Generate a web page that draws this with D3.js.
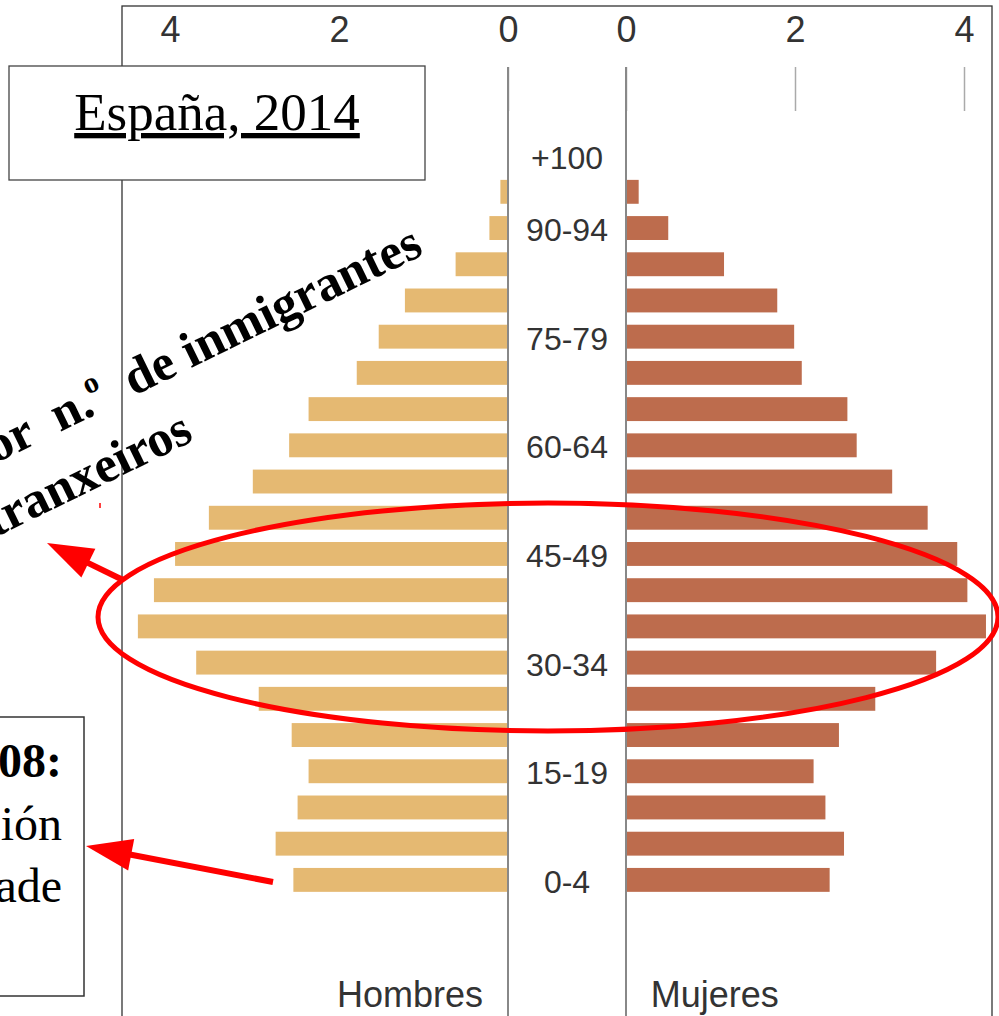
<!DOCTYPE html>
<html>
<head>
<meta charset="utf-8">
<script src="https://cdn.jsdelivr.net/npm/d3@7"></script>
<style>
html, body { margin: 0; padding: 0; background: #fff; }
svg { display: block; }
.tick text { font-family: "Liberation Sans", Arial, sans-serif; fill: #333; }
</style>
</head>
<body>
<div id="chart"></div>
<script>
// age groups, bottom to top
var ageGroups = ["0-4", "5-9", "10-14", "15-19", "20-24", "25-29", "30-34", "35-39",
	"40-44", "45-49", "50-54", "55-59", "60-64", "65-69", "70-74", "75-79",
	"80-84", "85-89", "90-94", "95-99", "+100"];

// % of population
var hombres = [2.54, 2.75, 2.49, 2.36, 2.56, 2.95, 3.69, 4.38,
	4.19, 3.94, 3.54, 3.02, 2.59, 2.36, 1.79, 1.53,
	1.22, 0.62, 0.22, 0.09, 0];
var mujeres = [2.41, 2.58, 2.36, 2.22, 2.52, 2.95, 3.67, 4.26,
	4.04, 3.92, 3.57, 3.15, 2.73, 2.62, 2.08, 1.99,
	1.79, 1.16, 0.50, 0.15, 0];

// labelled groups and axis ticks
var ageLabels = ["0-4", "15-19", "30-34", "45-49", "60-64", "75-79", "90-94", "+100"];
var tickValues = [0, 2, 4];
var sexLabels = ["Hombres", "Mujeres"];

var width = 999;
var height = 1016;
var leftZero = 508;
var rightZero = 626;
var axisY = 111;

var svg = d3.select("#chart").append("svg")
	.attr("width", width)
	.attr("height", height);

// scales
var y = d3.scaleBand()
	.domain(ageGroups.slice().reverse())
	.range([137.5, 898])
	.paddingInner(0.34)
	.paddingOuter(0.17);

var xLeft = d3.scaleLinear().domain([0, 4]).range([leftZero, leftZero - 338]);
var xRight = d3.scaleLinear().domain([0, 4]).range([rightZero, rightZero + 338]);

var rows = ageGroups.map(function (d, i) {
	return {age: d, h: hombres[i], m: mujeres[i]};
});

// outer frame
svg.append("rect")
	.attr("x", 122).attr("y", 6)
	.attr("width", 870).attr("height", 1030)
	.attr("fill", "none")
	.attr("stroke", "#333")
	.attr("stroke-width", 1.3);

// bars
svg.append("g").selectAll("rect")
	.data(rows)
	.enter().append("rect")
	.attr("x", function (d) { return xLeft(d.h); })
	.attr("y", function (d) { return y(d.age); })
	.attr("width", function (d) { return leftZero - xLeft(d.h); })
	.attr("height", y.bandwidth())
	.attr("fill", "#e5b972");

svg.append("g").selectAll("rect")
	.data(rows)
	.enter().append("rect")
	.attr("x", rightZero)
	.attr("y", function (d) { return y(d.age); })
	.attr("width", function (d) { return xRight(d.m) - rightZero; })
	.attr("height", y.bandwidth())
	.attr("fill", "#bd6c4d");

// top axes
function drawAxis(scale) {
	var axis = d3.axisTop(scale)
		.tickValues(tickValues)
		.tickSize(44)
		.tickPadding(25)
		.tickFormat(d3.format("d"));
	var g = svg.append("g")
		.attr("transform", "translate(0," + axisY + ")")
		.call(axis);
	g.select(".domain").remove();
	g.selectAll(".tick line").attr("stroke", "#aaa").attr("stroke-width", 1.5);
	g.selectAll(".tick text").attr("font-size", 36);
}
drawAxis(xLeft);
drawAxis(xRight);

// centre lines
svg.append("g").selectAll("line")
	.data([leftZero, rightZero])
	.enter().append("line")
	.attr("x1", function (d) { return d; })
	.attr("x2", function (d) { return d; })
	.attr("y1", axisY - 44)
	.attr("y2", height)
	.attr("stroke", "#888")
	.attr("stroke-width", 2);

// age labels
svg.append("g").selectAll("text")
	.data(ageLabels)
	.enter().append("text")
	.attr("x", (leftZero + rightZero) / 2)
	.attr("y", function (d) { return y(d) + y.bandwidth() / 2 + 2; })
	.attr("text-anchor", "middle")
	.attr("dominant-baseline", "central")
	.attr("font-family", "Liberation Sans, Arial, sans-serif")
	.attr("font-size", 32)
	.attr("fill", "#333")
	.text(function (d) { return d; });

// sex labels
svg.append("g").selectAll("text")
	.data(sexLabels)
	.enter().append("text")
	.attr("x", function (d, i) { return i === 0 ? xLeft(1.16) : xRight(1.05); })
	.attr("y", 1007)
	.attr("text-anchor", "middle")
	.attr("font-family", "Liberation Sans, Arial, sans-serif")
	.attr("font-size", 36)
	.attr("fill", "#333")
	.text(function (d) { return d; });

// title box
svg.append("rect")
	.attr("x", 9).attr("y", 66)
	.attr("width", 416).attr("height", 114)
	.attr("fill", "#fff")
	.attr("stroke", "#444")
	.attr("stroke-width", 1.3);

svg.append("text")
	.attr("x", 217).attr("y", 130)
	.attr("text-anchor", "middle")
	.attr("font-family", "Liberation Serif, Times New Roman, serif")
	.attr("font-size", 53)
	.attr("text-decoration", "underline")
	.attr("fill", "#000")
	.text("España, 2014");

// red highlight ellipse
svg.append("ellipse")
	.attr("cx", 548).attr("cy", 617)
	.attr("rx", 450).attr("ry", 114)
	.attr("fill", "none")
	.attr("stroke", "#ff0000")
	.attr("stroke-width", 5);

// arrows
function arrow(x0, y0, x1, y1) {
	var dx = x1 - x0, dy = y1 - y0;
	var len = Math.sqrt(dx * dx + dy * dy);
	var ux = dx / len, uy = dy / len;
	var bx = x1 - ux * 46, by = y1 - uy * 46;
	svg.append("line")
		.attr("x1", x0).attr("y1", y0)
		.attr("x2", bx + ux * 4).attr("y2", by + uy * 4)
		.attr("stroke", "#ff0000")
		.attr("stroke-width", 6);
	svg.append("path")
		.attr("d", "M" + x1 + "," + y1 +
			"L" + (bx - uy * 16) + "," + (by + ux * 16) +
			"L" + (bx + uy * 16) + "," + (by - ux * 16) + "Z")
		.attr("fill", "#ff0000");
}
arrow(123, 580, 47, 543);
arrow(273, 882, 86, 846);

svg.append("line")
	.attr("x1", 100).attr("x2", 100)
	.attr("y1", 503).attr("y2", 508)
	.attr("stroke", "#ff0000")
	.attr("stroke-width", 1.5);

// rotated note (runs off the left edge, as in the original)
var note1 = svg.append("text")
	.attr("transform", "translate(425,254) rotate(-26)")
	.attr("text-anchor", "end")
	.attr("font-family", "Liberation Serif, Times New Roman, serif")
	.attr("font-weight", "bold")
	.attr("font-size", 51)
	.attr("fill", "#000")
	.attr("xml:space", "preserve")
	.style("white-space", "pre");
note1.append("tspan").text("Maior  n.");
note1.append("tspan").attr("font-size", 30).attr("dy", -21).text("o");
note1.append("tspan").attr("dy", 21).text("  de inmigrantes");

svg.append("text")
	.attr("transform", "translate(195,440) rotate(-26)")
	.attr("text-anchor", "end")
	.attr("font-family", "Liberation Serif, Times New Roman, serif")
	.attr("font-weight", "bold")
	.attr("font-size", 51)
	.attr("fill", "#000")
	.text("estranxeiros");

// crisis box
svg.append("rect")
	.attr("x", -10).attr("y", 717)
	.attr("width", 94).attr("height", 279)
	.attr("fill", "#fff")
	.attr("stroke", "#333")
	.attr("stroke-width", 1.5);

var boxLines = [
	{t: "Crise de 2008:", bold: true, y: 777},
	{t: "Emigración", bold: false, y: 840},
	{t: "e baixa natalidade", bold: false, y: 902}
];
svg.append("g").selectAll("text")
	.data(boxLines)
	.enter().append("text")
	.attr("x", 62)
	.attr("y", function (d) { return d.y; })
	.attr("text-anchor", "end")
	.attr("font-family", "Liberation Serif, Times New Roman, serif")
	.attr("font-size", 48)
	.attr("font-weight", function (d) { return d.bold ? "bold" : "normal"; })
	.attr("fill", "#000")
	.text(function (d) { return d.t; });
</script>
</body>
</html>
